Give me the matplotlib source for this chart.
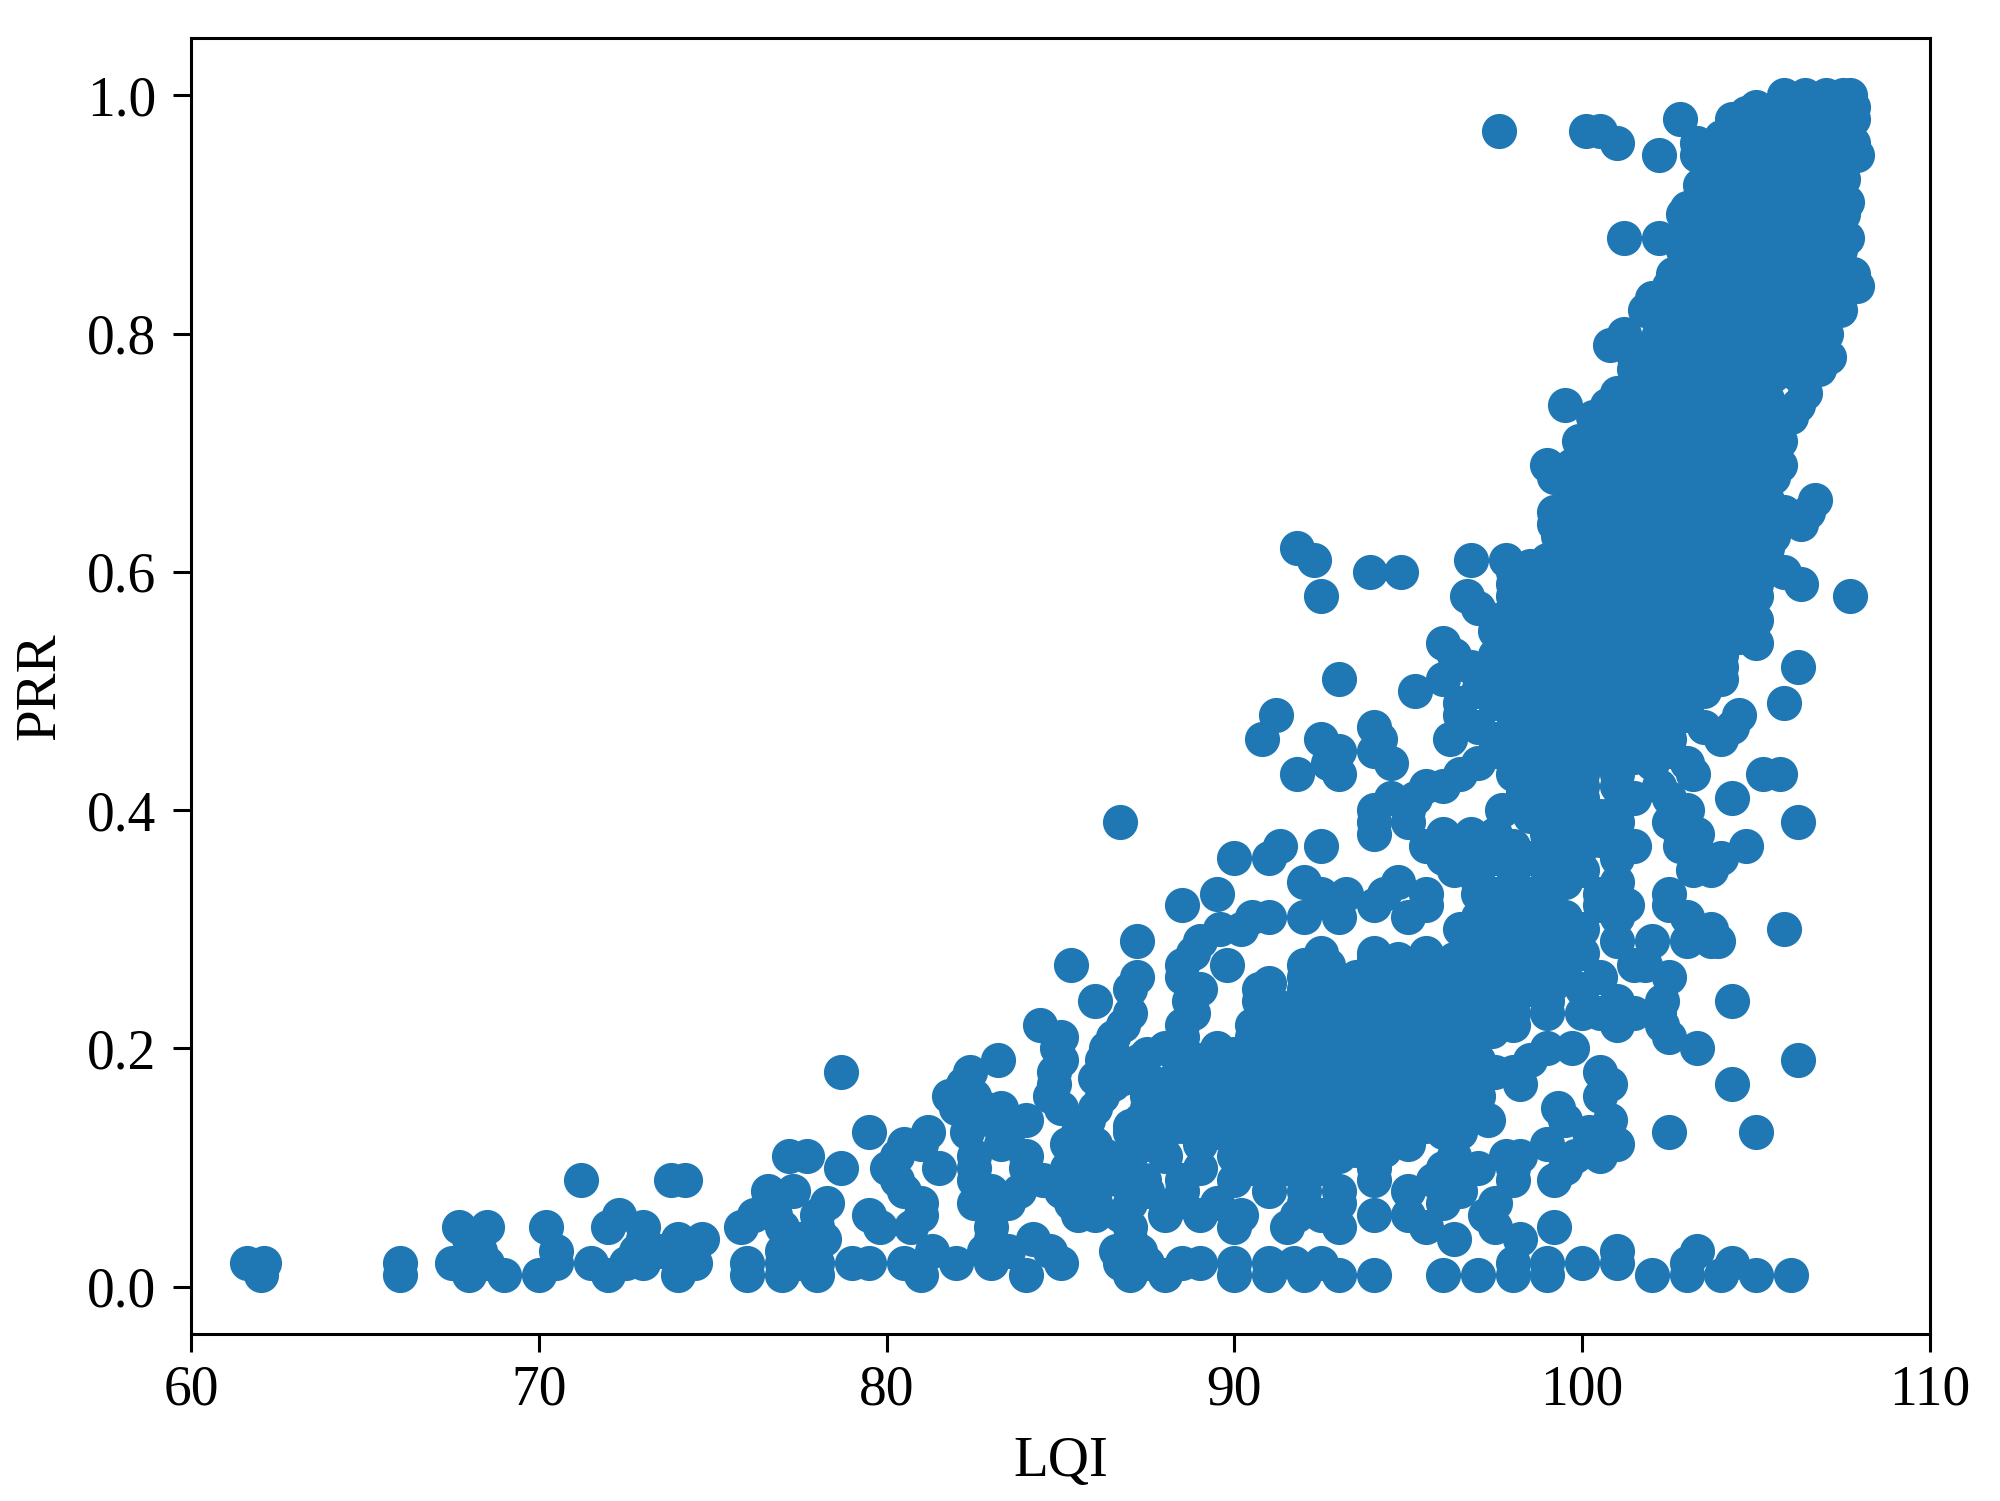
import matplotlib
matplotlib.use("Agg")
import matplotlib.pyplot as plt

plt.rcParams['font.family'] = ['Liberation Serif', 'DejaVu Serif']

# PRR level followed by the LQI readings seen at that level
low_rows = [
 (0.01,[62,66,68,69,70,72,74,76,77,78,81,84,87,88,90,91,92,93,94,96,97,98,99,102,103,104,105,106]),
 (0.02,[61.6,62.1,66,67.5,68.5,70.5,71.5,72.5,73,74.5,76,77,77.5,78,79,79.5,80.5,82,83,85,86.7,87.5,88.5,89,90,91,91.7,92.5,98,99,100,101,103,104.3]),
 (0.03,[68.3,70.5,72.8,73.5,74,77,77.8,81.3,82.8,83.5,84.7,86.6,87.3,101,103.3]),
 (0.04,[68,73,74,74.7,77.5,78.2,83,84.2,87,96.3,98.2]),
 (0.05,[67.7,68.5,70.2,72,73,75.8,77,78,79.8,80.7,83,87,90,91.5,93,95.5,97.5,99.2]),
 (0.06,[72.3,76.2,76.8,78,79.5,81,83,85.5,86,86.7,88,89,90.2,91.8,92.5,94,95,97.2]),
 (0.07,[76.6,78.3,81,82.5,83.5,85.3,86,87,88.3,89.5,92,93,96,97.5]),
 (0.08,[76.6,77.3,80.5,83,83.8,85,86,87.5,88.5,91,92,93,95,96.5]),
 (0.09,[71.2,73.8,74.2,80.3,82.5,84.5,85.5,87,88.5,90,91,92,94,95.7,96.5,98,99.2]),
 (0.10,[78.7,80,81.5,82.5,84,85.2,86.5,89,90.5,91.5,92.5,94,96,97,98,99.5]),
 (0.11,[77.2,77.7,80.3,82.5,84,85.5,87,88,90,91,92,93,94,96.3,97.8,98.2,99.8,100.5]),
 (0.12,[80.5,81,83.3,85.2,86,87.5,89,90.5,92,93.5,95,99,100.7,101]),
 (0.13,[79.5,81.2,82.3,83.5,85.5,87,88,89.5,91,92,93,94,95,96,96.5,100.2,102.5,105]),
 (0.14,[82.5,83,84,85.8,87.3,88.5,90,91.5,93,94.5,96,97.3,99.5,100.8]),
 (0.15,[82,82.8,83.3,85,86,87.5,89,90.5,92,93.5,95,96.5,99.3]),
 (0.16,[81.8,82.5,84.7,86.2,87.5,89,90.7,92,93.5,95,96,97,100.5]),
 (0.17,[82.2,84.8,86.5,88,89.5,91,92.5,94,95.5,97,98.2,100.8,104.3]),
 (0.18,[78.7,82.4,84.8,87,88.5,90,91.5,93,94.5,96,97.5,98,100.5]),
 (0.19,[83.2,85,86.2,87.3,89,91,92.5,94,95.5,97,98.5,106.2]),
 (0.20,[84.9,86.3,88,89.5,91,92.5,94,95.5,99,99.7,103.3]),
 (0.21,[85,86.5,88.5,90.5,92,93.5,95,96.5,102.5]),
 (0.22,[84.4,86.8,88.5,90.5,92,93.5,95,96.5,98,101,102.3]),
 (0.23,[87,88.8,90.8,92.5,94,95.5,97,98,99,100,100.5,101.5,102.2]),
 (0.24,[86,88.7,90.7,92,93.5,95,96.5,98,99,101,102.3,104.3]),
 (0.25,[87,89,90.7,92,94,95.5,97,98.5,100]),
 (0.26,[87.2,88.5,92,93.5,95,96.5,98,99.5,100.5,102.5]),
 (0.27,[85.3,88.5,89.8,92,92.7,94.5,96,97.5,99,101.5,101.8]),
 (0.28,[88.8,92.5,94,95.5,97,98.5,100]),
 (0.29,[87.2,89,97,98,99.5,101,102,103,103.7,103.9]),
 (0.30,[89.6,90.2,96.5,97.5,99,100,105.8,103.7]),
 (0.31,[90.5,91,92,93,95,97,98,99.5,101,103]),
 (0.32,[88.5,92.8,94,95.5,97.5,98.5,100.5,101.3,102.5]),
 (0.33,[89.5,92.5,93.2,94.3,95.5,97.5,99,100.5,102.5]),
 (0.34,[92,94.7,97,98,99.5,101]),
 (0.35,[96.3,97,98,99,100,103.2,103.7]),
 (0.36,[90,91,96,96.8,97.5,98.5,99.5,101,103.5,104]),
 (0.37,[91.3,92.5,95.5,96.3,97,98,99,100,101.5,102.8,104.7]),
 (0.38,[94,96,96.8,97.5,99,100,102.8,103.3]),
]
low_fill_rows = [
 (0.115,[90.5,91.3,92,92.8,93.5,94.3]),
 (0.135,[90.3,91,91.7,92.5,93.2,94,94.7,95.5]),
 (0.155,[88,88.8,89.5,90.2,91,91.7,92.5,93.2,94,94.7,95.5,96.2]),
 (0.175,[86,86.8,87.5,88.3,89,89.8,90.5,91.2,92,92.7,93.5,94.2,95,95.7,96.4]),
 (0.195,[86.5,87.5,88.3,90,90.7,91.5,92.2,93,93.7,94.5,95.2,96,96.7]),
 (0.215,[90.8,91.5,92.2,93,93.7,94.5,95.2,96,96.7,97.4]),
 (0.235,[91.3,92,92.8,93.5,94.2,95,95.7,96.4,97.2,97.9]),
 (0.255,[91,92.7,93.4,94.2,94.9,95.6,96.3,97,97.7,98.4,99.2]),
 (0.275,[94,94.7,95.5,96.3,97,97.8,98.5,99.3]),
 (0.295,[96.8,97.5,98.3,99,99.7]),
 (0.135,[87,87.8,88.5,89.2]),
 (0.11,[85.5,86.3,87]),
 (0.09,[86,86.7,87.4]),
 (0.33,[97,97.8,98.5]),
]
upper_rows = [
 (0.39,[86.7,94,95,99,100,101,102.5,106.2]),
 (0.40,[94,95,97.7,99,100,101,103]),
 (0.41,[94.5,95.2,99,100,101.5,102.5,104.3]),
 (0.42,[95.5,96,99,100,101,102.2]),
 (0.43,[91.8,93,96.5,98,99,100,101,103.2,105.2,105.7]),
 (0.44,[92.7,94.5,97,98,99,100,101,102,103]),
 (0.45,[93,94,97.5,98.5,99.5,100.5,101.5,102.5]),
 (0.46,[90.8,92.5,94.2,96.2,97.5,98.5,99.5,100.5,101.5,102.5,104]),
 (0.47,[94,97,98.5,99.5,100.5,101.5,102.5,103.5,104.3]),
 (0.48,[91.2,96.5,98,99,100,101,102,103,104.5]),
 (0.49,[96.5,97.5,99,100,101,102,103,105.8]),
 (0.50,[95.2,97,98.5,99.5,100.5,101.5,102.5,103.5]),
 (0.51,[93,96,97.5,99,100,101,102,103,104]),
 (0.52,[96.8,98,99,100,101,102,103,104,106.2]),
 (0.53,[96.3,97.5,99,100,101,102,103,104]),
 (0.54,[96,98,99,100,101,102,103,104,105]),
 (0.55,[97.5,98.5,99.5,100.5,101.5,102.5,103.5,104.5]),
 (0.56,[97.5,99,100,101,102,103,104,105]),
 (0.57,[97,98,99.5,100.5,101.5,102.5,103.5,104.5]),
 (0.58,[92.5,96.7,98,99,100,101,102,103,104,105,107.7]),
 (0.59,[98,99,100,101,102,103,104,105,106.3]),
 (0.60,[93.9,94.8,98,99,100,101,102,103,104,105,105.8]),
 (0.61,[92.3,96.8,97.8,99,100,101,102,103,104,105]),
 (0.62,[91.8,99.5,100.5,101.5,102.5,103.5,104.5,105.3]),
 (0.63,[99.3,100.5,101.5,102.5,103.5,104.5,105.5]),
 (0.64,[99.2,100,101,102,103,104,105,106.3]),
 (0.65,[99.2,100,101,102,103,104,105,105.8,106.5]),
 (0.66,[99.7,100.5,101.5,102.5,103.5,104.5,105.3,106.7]),
 (0.68,[99.2,99.8,100.5,101.5,102.5,103.5,104.5,105.5]),
 (0.69,[99,99.7,100.7,101.7,102.7,103.7,104.7,105.7]),
 (0.71,[99.9,100.7,101.7,102.7,103.7,104.7,105.7]),
 (0.73,[100.3,101,102,103,104,105,106]),
 (0.74,[99.5,100.7,101.7,102.7,103.7,104.7,106.2]),
 (0.75,[101,102,103,104,105,106.4]),
 (0.77,[101.5,102.3,103,104,105,106,106.8]),
 (0.78,[101.5,102.5,103.5,104.5,105.5,106.5,107.1]),
 (0.79,[100.8,101.3,102,103,104,105,106,106.9]),
 (0.80,[101.2,102.2,103,104,105,106,107]),
 (0.82,[101.8,102.2,103,104,105,106,107,107.4]),
 (0.83,[102,103,104,105,106,107,107.4]),
 (0.84,[102.5,103.5,104.5,105.5,106.5,107.5,107.9]),
 (0.85,[102.6,103.5,104.5,105.5,106.5,107.5,107.8]),
 (0.87,[102.9,103.5,104.5,105.5,106.5,107.4]),
 (0.88,[101.2,102.2,103,104,105,106,107,107.6]),
 (0.90,[102.9,103.5,104.5,105.5,106.5,107.5]),
 (0.91,[103.3,104,105,106,107,107.6]),
 (0.93,[103.7,104.5,105.5,106.5,107.5]),
 (0.95,[102.2,103.3,104,105,106,107,107.9]),
 (0.96,[101,103.3,104.3,105.3,106.3,107.3,107.8]),
 (0.97,[97.6,100.1,100.5,104.5,105.5,106.5,107.6]),
 (0.98,[102.8,104.3,105,106,107,107.8]),
 (0.99,[105,105.8,106.6,107.4,107.8]),
 (1.00,[105.8,106.4,107,107.5,107.7]),
]
upper_fill_rows = [
 (0.985,[104.7,105.5,106.3,107.1]),
 (0.965,[104,104.8,105.6,106.4,107.2]),
 (0.945,[103.5,104.5,105.5,106.5,107.5]),
 (0.925,[103.4,104.2,105,106,107]),
 (0.905,[103,104,105,106,107]),
 (0.885,[103.3,104.3,105.3,106.3,107.2]),
 (0.865,[103.2,104,105,106,107]),
 (0.845,[103,104,105,106,107]),
 (0.825,[102.5,103.5,104.5,105.5,106.5]),
 (0.805,[102.5,103.5,104.5,105.5,106.5]),
 (0.785,[102,103,104,105,106]),
 (0.765,[102,102.7,103.5,104.5,105.5,106.2]),
 (0.745,[101.3,102.3,103.3,104.3,105.3]),
 (0.725,[101,101.5,102.5,103.5,104.5,105.5]),
 (0.705,[100.2,101.2,102.2,103.2,104.2,105.2]),
 (0.685,[100.2,101,102,103,104,105]),
 (0.665,[100,101,102,103,104,105]),
 (0.645,[99.6,100.5,101.5,102.5,103.5,104.5,105.2]),
 (0.625,[99.8,100.8,101.8,102.8,103.8,104.8]),
 (0.605,[98.5,99.5,100.5,101.5,102.5,103.5,104.5]),
 (0.585,[98.5,99.5,100.5,101.5,102.5,103.5,104.5]),
 (0.565,[98.5,99.5,100.5,101.5,102.5,103.5,104.3]),
 (0.545,[98.5,99.5,100.5,101.5,102.5,103.5,104.5]),
 (0.525,[98.5,99.5,100.5,101.5,102.5,103.5]),
 (0.505,[98,99,100,101,102,103]),
 (0.485,[98.5,99.5,100.5,101.5,102.5]),
 (0.465,[98,99,100,101,102]),
 (0.445,[98.5,99.5,100.5,101.5]),
 (0.415,[99.5,98.3]),
 (0.395,[99.5,100.5,98.5]),
 (0.375,[99.5,100.5]),
]
x_ticks = [60, 70, 80, 90, 100, 110]
y_ticks = [0.0, 0.2, 0.4, 0.6, 0.8, 1.0]

all_rows = low_rows + low_fill_rows + upper_rows + upper_fill_rows
lqi = [x for level, xs in all_rows for x in xs]
prr = [level for level, xs in all_rows for x in xs]

fig = plt.figure(figsize=(20, 15.01), dpi=100)
ax = fig.add_axes([191/2000, 1 - 1334/1501, (1930-191)/2000, (1334-38)/1501])
ax.scatter(lqi, prr, s=640, color='#1f77b4', linewidths=0)
ax.set_xlim(60, 110)
ax.set_ylim(-0.0396, 1.048)
ax.set_xticks(x_ticks)
ax.set_yticks(y_ticks)
ax.set_yticklabels([f'{v:.1f}' for v in y_ticks])
ax.tick_params(axis='x', labelsize=40, length=13, width=2.2, pad=9)
ax.tick_params(axis='y', labelsize=40, length=13, width=2.2, pad=12)
ax.set_xlabel('LQI', fontsize=41, labelpad=14)
ax.set_ylabel('PRR', fontsize=41, labelpad=15)
for s in ax.spines.values():
    s.set_linewidth(2.2)
fig.savefig('out.png', dpi=100)
